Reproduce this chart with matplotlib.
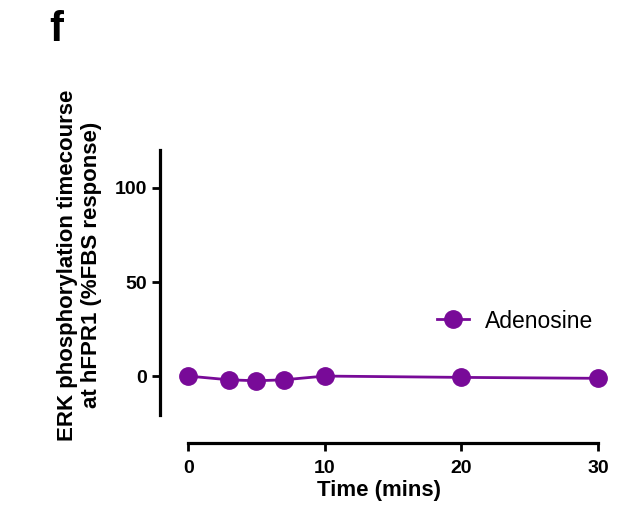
import matplotlib
matplotlib.use("Agg")
import matplotlib.pyplot as plt

plt.rcParams["font.family"] = ["Liberation Sans", "DejaVu Sans"]

# data
time_mins = [0, 3, 5, 7, 10, 20, 30]
adenosine = [0, -2, -2.5, -2, 0, -0.7, -1.2]
xticks = [0, 10, 20, 30]
yticks = [0, 50, 100]

purple = '#780a98'
W, H = 619, 513

fig = plt.figure(figsize=(W/100, H/100), dpi=100)
ax = fig.add_axes([160/W, 1 - 415/H, (598-160)/W, (415-150)/H])

ax.plot(time_mins, adenosine, color=purple, linewidth=2.0,
        marker='o', markersize=12.5, label='Adenosine', clip_on=False)

ax.set_xlim(-2.06, 30)
ax.set_ylim(-20.7, 120.2)
ax.set_xticks(xticks)
ax.set_yticks(yticks)

for s in ['top', 'right']:
    ax.spines[s].set_visible(False)
ax.spines['bottom'].set_position(('outward', 20))
ax.spines['bottom'].set_bounds(0, 30)
for s in ['left', 'bottom']:
    ax.spines[s].set_linewidth(2.3)

ax.tick_params(width=2.0, length=5.5, labelsize=14, pad=4)
ax.tick_params(axis='x', pad=7)
for lab in ax.get_xticklabels() + ax.get_yticklabels():
    lab.set_fontweight('bold')

ax.set_xlabel('Time (mins)', fontsize=16, fontweight='bold', labelpad=2)
ax.set_ylabel('ERK phosphorylation timecourse\nat hFPR1 (%FBS response)',
              fontsize=16, fontweight='bold')
ax.yaxis.set_label_coords(-0.133, 0.566)

leg = ax.legend(loc='center left', bbox_to_anchor=(437/W, 1 - 321/H),
                bbox_transform=fig.transFigure, frameon=False,
                fontsize=16.5, handlelength=1.4, handletextpad=0.7,
                borderpad=0, borderaxespad=0)

fig.text(56/W, 1 - 30/H, 'f', fontsize=30, fontweight='bold',
         ha='center', va='center')

plt.savefig('out.png', dpi=100)
